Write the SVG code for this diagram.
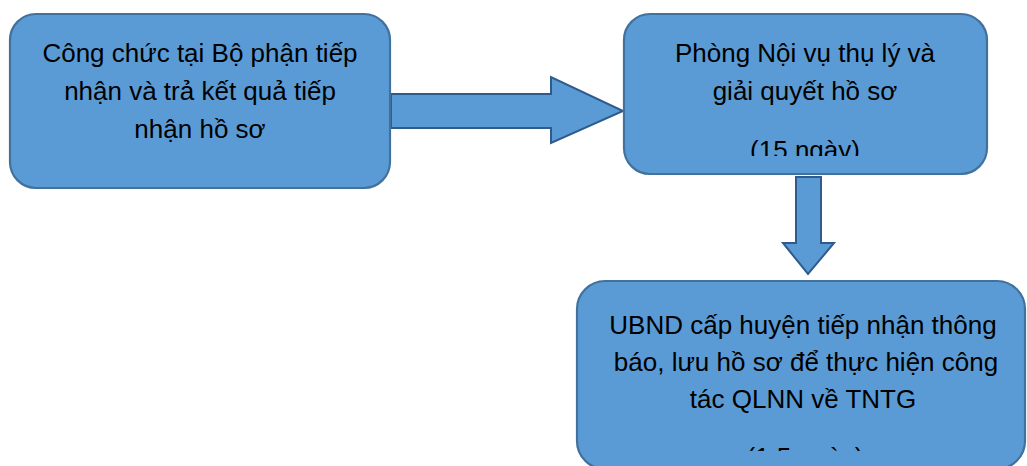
<svg xmlns="http://www.w3.org/2000/svg" width="1027" height="466" viewBox="0 0 1027 466">
<style>
.box{fill:#5B9BD5;stroke:#41719C;stroke-width:2.2}
.arr{fill:#5B9BD5;stroke:#2F5B8C;stroke-width:2}
.t{font-family:"Liberation Sans",Arial,sans-serif;font-size:26px;fill:#000;text-anchor:middle}
</style>
<defs>
<clipPath id="c2"><rect x="624" y="14" width="363" height="142"/></clipPath>
<clipPath id="c3"><rect x="577" y="281" width="448" height="170"/></clipPath>
</defs>
<rect width="1027" height="466" fill="#fff"/>
<g id="connectors">
<path class="arr" d="M391,94 H551 V77 L623,111 L551,143 V128 H391 Z"/>
<path class="arr" d="M796,177 H821 V243 H834 L808,274 L783,243 H796 Z"/>
</g>
<g id="node1">
<rect class="box" x="10" y="14" width="380" height="174" rx="26"/>
<text class="t" x="200" y="62">Công chức tại Bộ phận tiếp</text>
<text class="t" x="200" y="100">nhận và trả kết quả tiếp</text>
<text class="t" x="200" y="138">nhận hồ sơ</text>
</g>
<g id="node2">
<rect class="box" x="624" y="14" width="363" height="160" rx="26"/>
<g clip-path="url(#c2)">
<text class="t" x="805" y="62">Phòng Nội vụ thụ lý và</text>
<text class="t" x="805" y="100">giải quyết hồ sơ</text>
<text class="t" x="805" y="159">(15 ngày)</text>
</g>
</g>
<g id="node3">
<rect class="box" x="577" y="281" width="448" height="188" rx="28"/>
<g clip-path="url(#c3)">
<text class="t" x="803" y="334">UBND cấp huyện tiếp nhận thông</text>
<text class="t" x="806" y="371">báo, lưu hồ sơ để thực hiện công</text>
<text class="t" x="803" y="408">tác QLNN về TNTG</text>
<text class="t" x="805" y="466">(1,5 ngày)</text>
</g>
</g>
</svg>
